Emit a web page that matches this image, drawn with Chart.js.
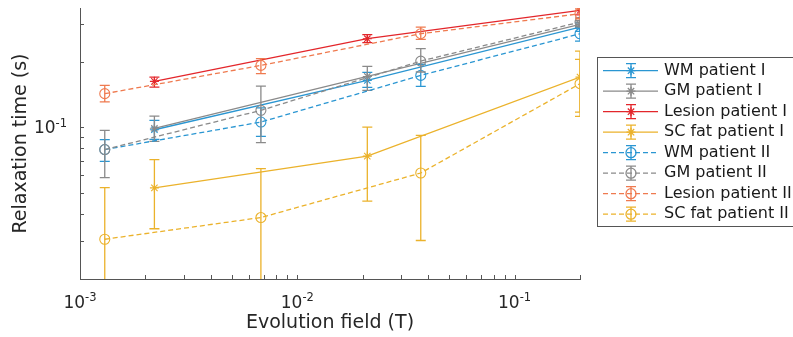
<!DOCTYPE html>
<html><head><meta charset="utf-8">
<script src="https://cdn.jsdelivr.net/npm/chart.js@4/dist/chart.umd.min.js"></script>
<style>html,body{margin:0;padding:0;background:#fff;}#wrap{width:793px;height:337px;position:relative;overflow:hidden}</style>
</head><body><div id="wrap"><canvas id="c" width="793" height="337"></canvas></div>
<script>
// ---- data ----
const fieldsI  = [0.0022, 0.021, 0.2];           // evolution field (T), patient I
const fieldsII = [0.0013, 0.0068, 0.037, 0.2];   // evolution field (T), patient II
const seriesLabels = ['WM patient I','GM patient I','Lesion patient I','SC fat patient I',
                      'WM patient II','GM patient II','Lesion patient II','SC fat patient II'];
const xTitle = 'Evolution field (T)';
const yTitle = 'Relaxation time (s)';

const wmI       = [0.0975, 0.1647, 0.290];
const wmILow    = [0.0880, 0.1529, 0.277];
const wmIHigh   = [0.1077, 0.1793, 0.303];
const gmI       = [0.0990, 0.1717, 0.2984];
const gmILow    = [0.0862, 0.148, 0.288];
const gmIHigh   = [0.1127, 0.191, 0.310];
const lesI      = [0.163, 0.2563, 0.346];
const lesILow   = [0.1534, 0.2456, 0.330];
const lesIHigh  = [0.1705, 0.2674, 0.362];
const fatI      = [0.0526, 0.0737, 0.1705];
const fatILow   = [0.0341, 0.0457, 0.1176];
const fatIHigh  = [0.0710, 0.1003, 0.2247];

const wmII      = [0.079, 0.1058, 0.1736, 0.270];
const wmIILow   = [0.0697, 0.0909, 0.1545, 0.250];
const wmIIHigh  = [0.0878, 0.1231, 0.195, 0.287];
const gmII      = [0.079, 0.1198, 0.2021, 0.3057];
const gmIILow   = [0.0586, 0.0850, 0.180, 0.292];
const gmIIHigh  = [0.0969, 0.155, 0.2305, 0.320];
const lesII     = [0.143, 0.193, 0.2703, 0.334];
const lesIILow  = [0.131, 0.1768, 0.2544, 0.316];
const lesIIHigh = [0.156, 0.2073, 0.2898, 0.352];
const fatII     = [0.0305, 0.0384, 0.0616, 0.159];
const fatIILow  = [0.012, 0.012, 0.0301, 0.1124];
const fatIIHigh = [0.0527, 0.0645, 0.0919, 0.2058];

// ---- styling ----
const BLUE='#2a96d2', GRAY='#8a8a8a', RED='#e3262b', YEL='#ebb22b', ORA='#ef7a4f';
const FONT='DejaVu Sans';
const TXT='#262626';
const LW=1.3;

const series = [
  {x:fieldsI,  y:wmI,   lo:wmILow,   hi:wmIHigh,   c:BLUE, dash:false, m:'star'},
  {x:fieldsI,  y:gmI,   lo:gmILow,   hi:gmIHigh,   c:GRAY, dash:false, m:'star'},
  {x:fieldsI,  y:lesI,  lo:lesILow,  hi:lesIHigh,  c:RED,  dash:false, m:'star'},
  {x:fieldsI,  y:fatI,  lo:fatILow,  hi:fatIHigh,  c:YEL,  dash:false, m:'star'},
  {x:fieldsII, y:wmII,  lo:wmIILow,  hi:wmIIHigh,  c:BLUE, dash:true,  m:'circle'},
  {x:fieldsII, y:gmII,  lo:gmIILow,  hi:gmIIHigh,  c:GRAY, dash:true,  m:'circle'},
  {x:fieldsII, y:lesII, lo:lesIILow, hi:lesIIHigh, c:ORA,  dash:true,  m:'circle'},
  {x:fieldsII, y:fatII, lo:fatIILow, hi:fatIIHigh, c:YEL,  dash:true,  m:'circle'},
];
const DASH=[5,3];

const datasets = series.map((s,i)=>({
  label: seriesLabels[i],
  data: s.x.map((xv,k)=>({x:xv, y:s.y[k], lo:s.lo[k], hi:s.hi[k]})),
  showLine:true, tension:0,
  borderColor:s.c, backgroundColor:'rgba(0,0,0,0)', borderWidth:LW,
  borderDash: s.dash?DASH:[],
  pointStyle:s.m, pointRadius: s.m==='star'?4.5:5, pointHoverRadius: s.m==='star'?4.5:5,
  pointBorderColor:s.c, pointBackgroundColor:'rgba(0,0,0,0)', pointBorderWidth:1.1,
  order: 8-i
}));

function isDecade(v){ const e=Math.log10(v); return Math.abs(e-Math.round(e))<1e-9; }
function nice(v){
  const m=v/Math.pow(10,Math.floor(Math.log10(v)+1e-9));
  return Math.abs(m-Math.round(m))<1e-6;
}

const errorBars={
  id:'errorBars',
  beforeDatasetDraw(chart,args){
    const ds=chart.data.datasets[args.index];
    const {ctx,chartArea:a,scales:{x,y}}=chart;
    ctx.save();
    ctx.beginPath(); ctx.rect(a.left,a.top,a.right-a.left,a.bottom-a.top); ctx.clip();
    ctx.strokeStyle=ds.borderColor; ctx.lineWidth=LW; ctx.setLineDash([]);
    ds.data.forEach(p=>{
      const px=x.getPixelForValue(p.x), y1=y.getPixelForValue(p.lo), y2=y.getPixelForValue(p.hi);
      ctx.beginPath();
      ctx.moveTo(px,y1); ctx.lineTo(px,y2);
      ctx.moveTo(px-5,y1); ctx.lineTo(px+5,y1);
      ctx.moveTo(px-5,y2); ctx.lineTo(px+5,y2);
      ctx.stroke();
    });
    ctx.restore();
  }
};

// inward tick marks + decade labels written as 10 with a raised exponent
const axesDecor={
  id:'axesDecor',
  afterDraw(chart){
    const {ctx,chartArea:a,scales}=chart;
    ctx.save(); ctx.strokeStyle='#555'; ctx.lineWidth=1; ctx.setLineDash([]);
    scales.x.ticks.forEach(t=>{
      if(!nice(t.value)) return;
      const px=Math.round(scales.x.getPixelForValue(t.value))+0.5;
      ctx.beginPath(); ctx.moveTo(px,a.bottom); ctx.lineTo(px,a.bottom-4); ctx.stroke();
    });
    scales.y.ticks.forEach(t=>{
      if(!nice(t.value)) return;
      const py=Math.round(scales.y.getPixelForValue(t.value))+0.5;
      ctx.beginPath(); ctx.moveTo(a.left,py); ctx.lineTo(a.left+4,py); ctx.stroke();
    });
    const big='17px "'+FONT+'"', small='11.5px "'+FONT+'"';
    ctx.fillStyle=TXT; ctx.textBaseline='alphabetic'; ctx.textAlign='left';
    function lbl(v){ return {base:'10', exp:String(Math.round(Math.log10(v)))}; }
    scales.x.ticks.forEach(t=>{
      if(!isDecade(t.value)) return;
      const {base,exp}=lbl(t.value);
      ctx.font=big; const wb=ctx.measureText(base).width;
      ctx.font=small; const we=ctx.measureText(exp).width;
      const px=scales.x.getPixelForValue(t.value), x0=px-(wb+we)/2;
      ctx.font=big; ctx.fillText(base,x0,a.bottom+29);
      ctx.font=small; ctx.fillText(exp,x0+wb,a.bottom+22);
    });
    scales.y.ticks.forEach(t=>{
      if(!isDecade(t.value)) return;
      const {base,exp}=lbl(t.value);
      ctx.font=big; const wb=ctx.measureText(base).width;
      ctx.font=small; const we=ctx.measureText(exp).width;
      const py=scales.y.getPixelForValue(t.value), xr=a.left-13;
      ctx.font=big; ctx.fillText(base,xr-we-wb,py+6);
      ctx.font=small; ctx.fillText(exp,xr-we,py-0.5);
    });
    ctx.restore();
  }
};

const boxLegend={
  id:'boxLegend',
  afterDraw(chart){
    const ctx=chart.ctx;
    const bx=597.5, by=57.5, bw=220, bh=169;
    ctx.save();
    ctx.fillStyle='#fff'; ctx.fillRect(bx,by,bw,bh);
    ctx.strokeStyle='#555'; ctx.lineWidth=1; ctx.setLineDash([]);
    ctx.strokeRect(bx,by,bw,bh);
    const x0=603, x1=658, xm=631, ty0=70.7, dy=20.5;
    chart.data.datasets.forEach((ds,i)=>{
      const yy=ty0+i*dy;
      ctx.strokeStyle=ds.borderColor; ctx.lineWidth=LW;
      ctx.setLineDash(series[i].dash?DASH:[]);
      ctx.beginPath(); ctx.moveTo(x0,yy); ctx.lineTo(x1,yy); ctx.stroke();
      ctx.setLineDash([]);
      ctx.beginPath();
      ctx.moveTo(xm,yy-7); ctx.lineTo(xm,yy+7);
      ctx.moveTo(xm-5,yy-7); ctx.lineTo(xm+5,yy-7);
      ctx.moveTo(xm-5,yy+7); ctx.lineTo(xm+5,yy+7);
      ctx.stroke();
      ctx.fillStyle='rgba(0,0,0,0)';
      Chart.helpers.drawPoint(ctx,{pointStyle:ds.pointStyle,radius:ds.pointRadius,borderWidth:1.1,rotation:0},xm,yy);
      ctx.fillStyle='#1a1a1a'; ctx.font='16px "'+FONT+'"';
      ctx.textAlign='left'; ctx.textBaseline='middle';
      ctx.fillText(ds.label,664,yy);
    });
    ctx.restore();
  }
};

new Chart(document.getElementById('c'),{
  type:'scatter',
  data:{datasets},
  options:{
    responsive:false, animation:false, devicePixelRatio:1,
    layout:{padding:{left:0,right:213,top:8,bottom:0}},
    plugins:{legend:{display:false},tooltip:{enabled:false}},
    scales:{
      x:{type:'logarithmic',position:'bottom',min:0.001,max:0.2,
        grid:{display:false},
        border:{display:true,color:'#555',width:1},
        ticks:{display:false,autoSkip:false},
        title:{display:true,text:xTitle,color:TXT,font:{family:FONT,size:19},padding:{top:0,bottom:3}},
        afterFit(s){s.height=58; s.paddingLeft=0; s.paddingRight=0;}
      },
      y:{type:'logarithmic',position:'left',min:0.02,max:0.355,
        grid:{display:false},
        border:{display:true,color:'#555',width:1},
        ticks:{display:false,autoSkip:false},
        title:{display:true,text:yTitle,color:TXT,font:{family:FONT,size:19},padding:{top:10,bottom:0}},
        afterFit(s){s.width=80; s.paddingTop=0; s.paddingBottom=0;}
      }
    }
  },
  plugins:[errorBars,axesDecor,boxLegend]
});
</script></body></html>
